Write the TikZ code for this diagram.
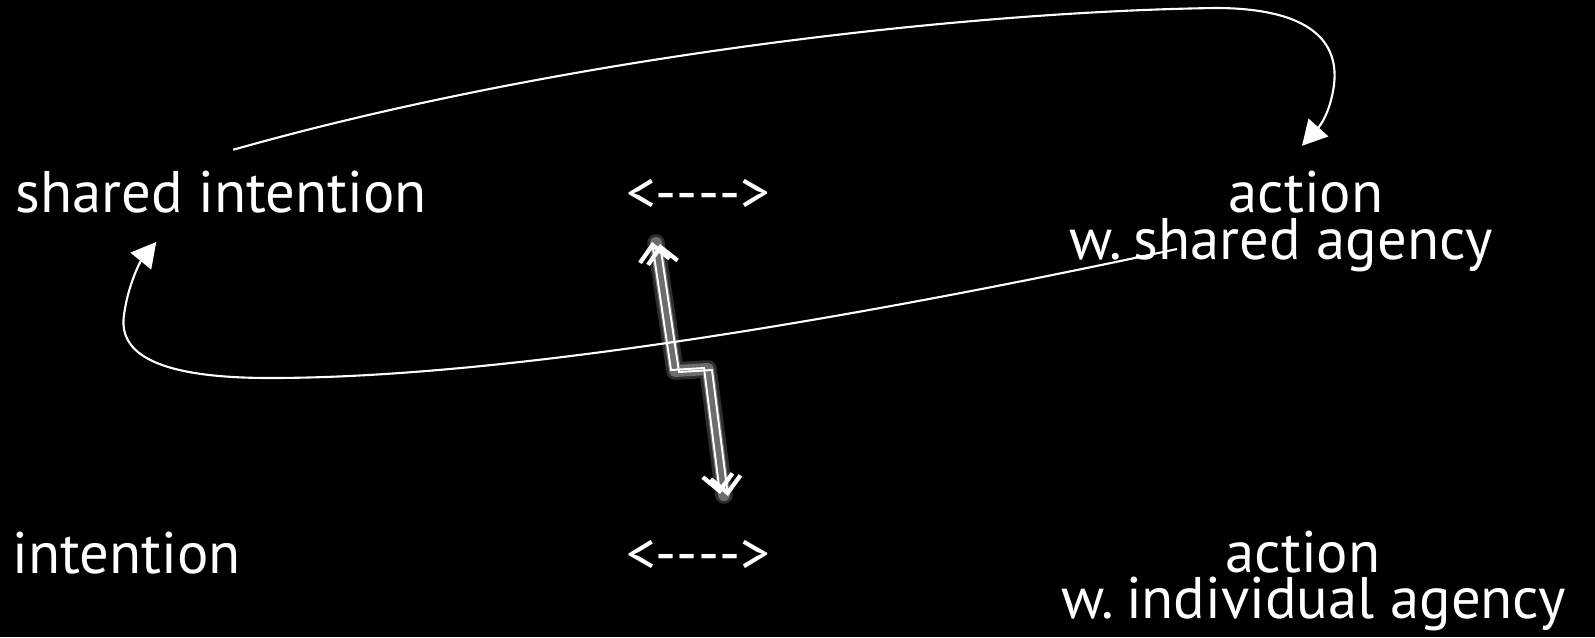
\documentclass[tikz,border=0pt]{standalone}
\usepackage{fontspec}
\setmainfont{PT Sans}
\usetikzlibrary{arrows.meta}

\tikzset{
  lbl/.style={text=white, inner sep=0pt, font=\fontsize{16.7}{16.7}\selectfont},
  loopline/.style={white, line width=0.6pt, -{Triangle[length=7pt,width=7.5pt]}},
  bolt/.style={white, line width=0.55pt, line join=miter,
    {Straight Barb[length=4.5pt,width=8.5pt,line width=1.2pt]}-{Straight Barb[length=4.5pt,width=8.5pt,line width=1.2pt]}},
  glow/.style={white, line cap=round, line join=round}
}
\newcommand{\hy}{\mbox{-}}

\begin{document}
\begin{tikzpicture}[x=0.1mm, y=-0.1mm]
    \fill[black] (0,0) rectangle (1595,637);
    \useasboundingbox (0,0) rectangle (1595,637);

    % shared row
    \node[lbl, anchor=base west] (si) at (15,212) {shared intention};
    \node[lbl, anchor=base] (ar1) at (698,212) {<\hy\hy\hy\hy>};
    \node[lbl, anchor=base] (act1) at (1306,212) {action};
    \node[lbl, anchor=base] (wsa) at (1281,259) {w.\hspace{-0.15em} shared agency};

    % individual row
    \node[lbl, anchor=base west] (ii) at (12,573) {intention};
    \node[lbl, anchor=base] (ar2) at (698,573) {<\hy\hy\hy\hy>};
    \node[lbl, anchor=base] (act2) at (1303,572) {action};
    \node[lbl, anchor=base] (wia) at (1314,618) {w.\hspace{-0.15em} individual agency};

    % glowing bolt between the rows
    \draw[glow, line width=5pt, opacity=0.18] ([shift={(-42,31)}]ar1.base) -- ++(19,128) -- ++(33,-2) -- ([shift={(26,-78)}]ar2.base);
    \draw[glow, line width=3.4pt, opacity=0.3] ([shift={(-42,31)}]ar1.base) -- ++(19,128) -- ++(33,-2) -- ([shift={(26,-78)}]ar2.base);
    \foreach \dx/\dy in {-4/-1, 4/1}
        \draw[bolt] ([shift={(\dx,\dy)}, shift={(-42,31)}]ar1.base) -- ++(19,128) -- ++(33,-2) -- ([shift={(\dx,\dy)}, shift={(26,-78)}]ar2.base);

    % loop from intention to action and back
    \draw[loopline] ([shift={(12,-20)}]si.north) .. controls (550,60) and (950,12) .. (1215,8)
        .. controls (1300,8) and (1340,35) .. (1334,85)
        .. controls (1330,115) and (1318,128) .. ([shift={(-4,-24)}]act1.north);
    \draw[loopline] ([shift={(-104,-10)}]wsa.base) .. controls (800,330) and (480,378) .. (270,378)
        .. controls (160,378) and (118,355) .. (124,315)
        .. controls (128,285) and (140,262) .. ([shift={(-65,30)}]si.base);
\end{tikzpicture}
\end{document}
